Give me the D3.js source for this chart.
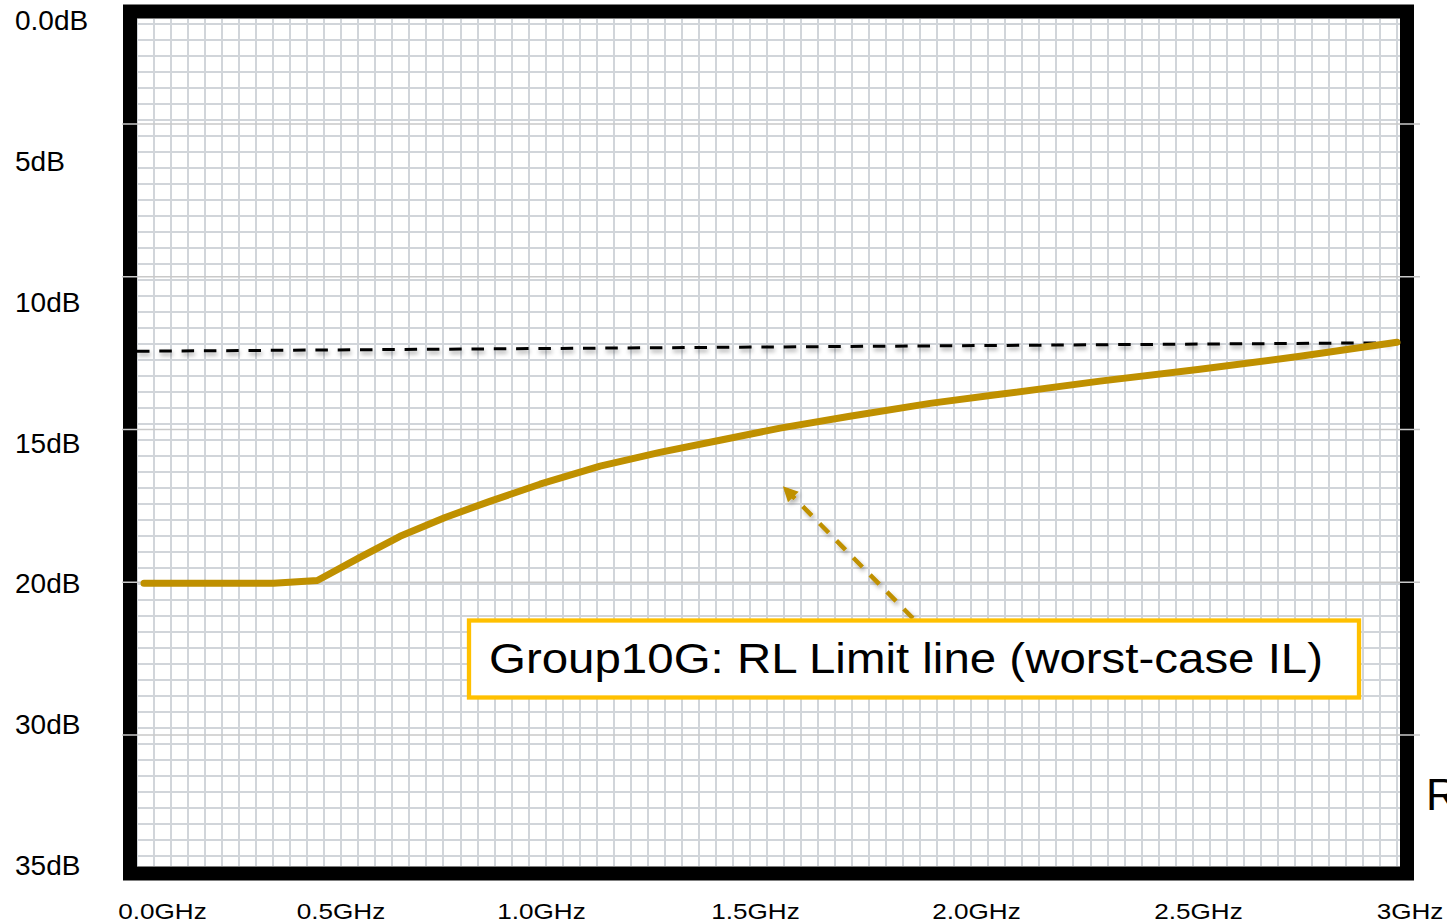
<!DOCTYPE html>
<html>
<head>
<meta charset="utf-8">
<script src="https://cdn.jsdelivr.net/npm/d3@7"></script>
<style>
  html, body { margin: 0; padding: 0; background: #fff; }
  svg { display: block; }
  text { font-family: "Liberation Sans", Arial, sans-serif; fill: #000; }
</style>
</head>
<body>
<div id="chart"></div>
<script>
// ---------------- data ----------------
const yTickLabels = ["0.0dB", "5dB", "10dB", "15dB", "20dB", "30dB", "35dB"];
const xTickValues = [0, 0.5, 1.0, 1.5, 2.0, 2.5, 3.0];
const xTickLabels = ["0.0GHz", "0.5GHz", "1.0GHz", "1.5GHz", "2.0GHz", "2.5GHz", "3GHz"];

// RL limit curve (GHz, dB)
const freqGHz   = [0, 0.31, 0.415, 0.517, 0.613, 0.721, 0.828, 0.948, 1.092, 1.235, 1.379, 1.523, 1.690, 1.882, 2.049, 2.289, 2.528, 2.768, 3.0];
const rlLimitDb = [20, 20, 19.9, 19.08, 18.33, 17.66, 17.09, 16.48, 15.84, 15.35, 14.92, 14.49, 14.07, 13.61, 13.29, 12.82, 12.40, 11.94, 11.44];

// dashed reference line (GHz, dB)
const refFreqGHz = [0, 3.0];
const refDb      = [11.76, 11.46];

// annotation arrow (GHz, dB): tail -> tip
const arrowFreq = [1.841, 1.532];
const arrowDb   = [21.24, 16.59];
const annotationText = "Group10G: RL Limit line (worst-case IL)";
const sideText = "R";

// grid counts
const minorCols = 74, minorRows = 52;
const majorRowIdx = [1, 2, 3, 4, 5];

// ---------------- layout ----------------
const W = 1447, H = 924;
const svg = d3.select("#chart").append("svg").attr("width", W).attr("height", H);
svg.append("rect").attr("width", W).attr("height", H).attr("fill", "#fff");

const defs = svg.append("defs");
const shadow = defs.append("filter").attr("id", "shadow")
  .attr("x", "-10%").attr("y", "-50%").attr("width", "120%").attr("height", "300%");
shadow.append("feDropShadow").attr("dx", 1).attr("dy", 3).attr("stdDeviation", 2)
  .attr("flood-color", "#000").attr("flood-opacity", 0.35);
const shadow2 = defs.append("filter").attr("id", "shadow2")
  .attr("x", "-30%").attr("y", "-30%").attr("width", "160%").attr("height", "160%");
shadow2.append("feDropShadow").attr("dx", 2).attr("dy", 3).attr("stdDeviation", 2)
  .attr("flood-color", "#000").attr("flood-opacity", 0.3);

defs.append("marker").attr("id", "ahead")
  .attr("viewBox", "0 0 10 10").attr("refX", 9).attr("refY", 5)
  .attr("markerUnits", "userSpaceOnUse").attr("markerWidth", 17).attr("markerHeight", 15)
  .attr("orient", "auto")
  .append("path").attr("d", "M0,0 L10,5 L0,10 z").attr("fill", "#BF9000");

// scales
const yLab = d3.scalePoint().domain(yTickLabels).range([20, 865]);
const y = d3.scaleLinear().domain([0, 20]).range([yLab("0.0dB"), yLab("20dB")]);
const x = d3.scaleLinear().domain([0, 3]).range([144, 1397]);
const xLab = d3.scaleLinear().domain(xTickValues).range([162.5, 341, 541.5, 755.5, 976.5, 1198.5, 1410]);

const gx = d3.scaleLinear().domain([0, minorCols]).range([137, 1397]);
const gy = d3.scaleLinear().domain([0, minorRows]).range([24, 856]);
const gMajor = d3.scaleLinear().domain([1, 5]).range([124, 735]);

// minor grid
const grid = svg.append("g").attr("stroke", "#d1d5da").attr("stroke-width", 2)
  .attr("shape-rendering", "crispEdges");
grid.selectAll("line.v").data(d3.range(minorCols + 1)).join("line")
  .attr("class", "v").attr("x1", d => Math.round(gx(d))).attr("x2", d => Math.round(gx(d)))
  .attr("y1", 19).attr("y2", 866);
grid.selectAll("line.h").data(d3.range(minorRows + 1)).join("line")
  .attr("class", "h").attr("y1", d => Math.round(gy(d))).attr("y2", d => Math.round(gy(d)))
  .attr("x1", 137).attr("x2", 1400);

// frame
svg.append("rect").attr("x", 130).attr("y", 11.5).attr("width", 1277).attr("height", 862)
  .attr("fill", "none").attr("stroke", "#000").attr("stroke-width", 14);

// major horizontal lines (cross the frame)
svg.append("g").selectAll("line").data(majorRowIdx).join("line")
  .attr("x1", 122).attr("x2", 1420)
  .attr("y1", d => gMajor(d)).attr("y2", d => gMajor(d))
  .attr("stroke", "#c9c9c9").attr("stroke-width", 1.3);

// dashed reference line
const refPts = refFreqGHz.map((f, i) => [f, refDb[i]]);
svg.append("path").datum(refPts)
  .attr("d", d3.line().x(d => x(d[0]) - 7).y(d => y(d[1])))
  .attr("fill", "none").attr("stroke", "#000").attr("stroke-width", 3)
  .attr("stroke-dasharray", "12.5 9.8").attr("filter", "url(#shadow)");

// RL limit curve
const pts = freqGHz.map((f, i) => [f, rlLimitDb[i]]);
svg.append("path").datum(pts)
  .attr("d", d3.line().x(d => x(d[0])).y(d => y(d[1])))
  .attr("fill", "none").attr("stroke", "#BF9000").attr("stroke-width", 7)
  .attr("stroke-linecap", "round").attr("stroke-linejoin", "round");

// arrow
const arrowPts = arrowFreq.map((f, i) => [f, arrowDb[i]]);
svg.append("path").datum(arrowPts)
  .attr("d", d3.line().x(d => x(d[0])).y(d => y(d[1])))
  .attr("fill", "none").attr("stroke", "#BF9000").attr("stroke-width", 4.5)
  .attr("stroke-dasharray", "13 11").attr("marker-end", "url(#ahead)")
  .attr("filter", "url(#shadow2)");

// annotation box
svg.append("rect").attr("x", 469).attr("y", 620.5).attr("width", 890).attr("height", 77)
  .attr("fill", "#fff").attr("stroke", "#FFC000").attr("stroke-width", 4.3);
svg.append("text").attr("transform", "translate(489,673) scale(1.13,1)")
  .attr("font-size", 42).text(annotationText);

// y labels
svg.append("g").selectAll("text").data(yTickLabels).join("text")
  .attr("x", 15).attr("y", d => yLab(d) + 10)
  .attr("font-size", 28).text(d => d);

// x labels
svg.append("g").selectAll("text").data(xTickValues).join("text")
  .attr("transform", d => `translate(${xLab(d)},919) scale(1.16,1)`)
  .attr("text-anchor", "middle").attr("font-size", 22.5)
  .text((d, i) => xTickLabels[i]);

// side text (clipped by the right edge, as in the reference)
svg.append("text").attr("x", 1426).attr("y", 810).attr("font-size", 44).text(sideText);
</script>
</body>
</html>
